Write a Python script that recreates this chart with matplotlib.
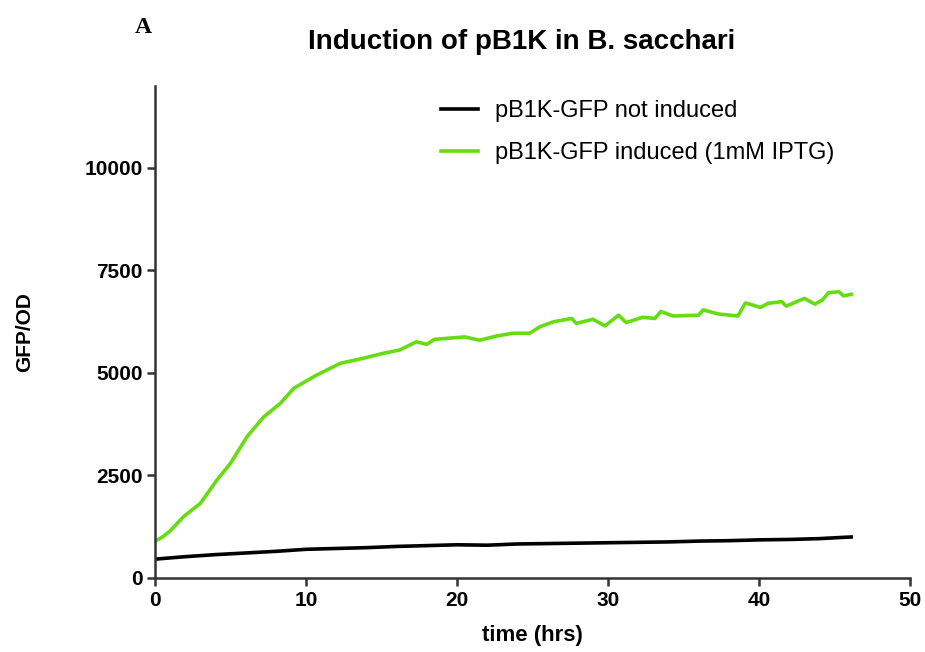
import matplotlib
matplotlib.use('Agg')
import matplotlib.pyplot as plt

plt.rcParams['font.family'] = ['Liberation Sans', 'DejaVu Sans']

# 数据
time_induced = [0, 0.5, 1, 1.9, 3.0, 4.1, 5.0, 6.1, 7.2, 8.3, 9.2, 10.7, 12.3, 13.8,
                15.1, 16.2, 17.3, 18.0, 18.5, 19.5, 20.5, 21.5, 22.6, 23.7, 24.8, 25.5,
                26.4, 27.6, 27.9, 29.0, 29.8, 30.7, 31.2, 32.3, 33.1, 33.5, 34.3, 36.0,
                36.3, 37.3, 38.6, 39.1, 40.1, 40.6, 41.5, 41.8, 43.0, 43.7, 44.2, 44.6,
                45.3, 45.6, 46.1]
gfp_induced = [900, 1000, 1150, 1500, 1820, 2390, 2800, 3450, 3930, 4260, 4630, 4950, 5240, 5360,
               5480, 5560, 5760, 5700, 5820, 5850, 5880, 5800, 5900, 5970, 5970, 6130,
               6250, 6330, 6210, 6310, 6150, 6410, 6230, 6360, 6330, 6500, 6390, 6410,
               6540, 6440, 6390, 6710, 6600, 6700, 6740, 6630, 6820, 6680, 6780, 6960,
               6980, 6880, 6920]

time_control = [0, 2, 4, 6, 8, 10, 12, 14, 16, 18, 20, 22, 24, 26, 28, 30, 32, 34, 36,
                38, 40, 42, 44, 45.5, 46.1]
gfp_control = [460, 520, 570, 610, 650, 700, 720, 740, 770, 790, 810, 800, 830, 840, 850,
               860, 870, 880, 900, 910, 930, 940, 960, 990, 1000]

x_ticks = [0, 10, 20, 30, 40, 50]
y_ticks = [0, 2500, 5000, 7500, 10000]

fig = plt.figure(figsize=(9.25, 6.52), dpi=100)
ax = fig.add_axes([0.1676, 0.1135, 0.8162, 0.7546])

ax.plot(time_control, gfp_control, color='black', lw=2.6, label='pB1K-GFP not induced')
ax.plot(time_induced, gfp_induced, color='#66dd11', lw=2.6, label='pB1K-GFP induced (1mM IPTG)')

ax.set_xlim(0, 50)
ax.set_ylim(0, 12000)
ax.set_xticks(x_ticks)
ax.set_yticks(y_ticks)
for lbl in ax.get_xticklabels() + ax.get_yticklabels():
    lbl.set_fontweight('bold')
ax.tick_params(direction='out', length=6, width=1.8, color='#333333', labelsize=15)
ax.tick_params(axis='y', pad=3)

for side in ['top', 'right']:
    ax.spines[side].set_visible(False)
for side in ['left', 'bottom']:
    ax.spines[side].set_linewidth(1.8)
    ax.spines[side].set_color('#333333')

ax.set_xlabel('time (hrs)', fontsize=16, fontweight='bold', labelpad=11)
ax.set_ylabel('GFP/OD', fontsize=15, fontweight='bold', labelpad=36)
fig.text(0.564, 0.935, 'Induction of pB1K in B. sacchari', fontsize=20, fontweight='bold',
         ha='center', va='center')
fig.text(0.155, 0.958, 'A', fontsize=17, fontweight='bold', family='Liberation Serif',
         ha='center', va='center')

ax.legend(loc='upper left', bbox_to_anchor=(0.35, 1.015), frameon=False, fontsize=17,
          handlelength=1.6, labelspacing=0.85, handletextpad=0.7)

fig.savefig('out.png', dpi=100)
